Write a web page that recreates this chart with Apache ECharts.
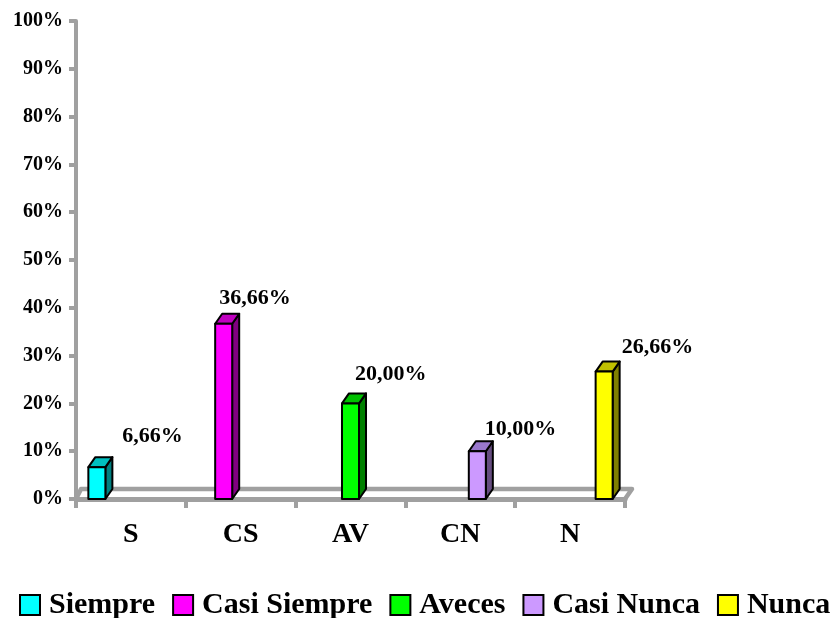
<!DOCTYPE html>
<html>
<head>
<meta charset="utf-8">
<script src="https://cdn.jsdelivr.net/npm/echarts@6/dist/echarts.min.js"></script>
<style>
html,body{margin:0;padding:0;background:#fff;}
#chart{width:838px;height:618px;}
</style>
</head>
<body>
<div id="chart"></div>
<script>
// ---- data ----
const categories = ['S', 'CS', 'AV', 'CN', 'N'];
const seriesNames = ['Siempre', 'Casi Siempre', 'Aveces', 'Casi Nunca', 'Nunca'];
const values = [6.66, 36.66, 20.00, 10.00, 26.66];
const yTicks = [0, 10, 20, 30, 40, 50, 60, 70, 80, 90, 100];

// ---- styles ----
const styles = [
  {front: '#00FFFF', top: '#00C0C0', side: '#008080', lab: [17, -31]},
  {front: '#FF00FF', top: '#C000C0', side: '#800080', lab: [-13, -25]},
  {front: '#00FF00', top: '#00C000', side: '#008000', lab: [-4, -29]},
  {front: '#CC99FF', top: '#9977CC', side: '#664D80', lab: [-1, -22]},
  {front: '#FFFF00', top: '#C0C000', side: '#808000', lab: [9, -24]}
];
const DX = 7, DY = -10;
const GRAY = '#A0A0A0';
const FONT = '"Liberation Serif", "Times New Roman", serif';

function fmt(v) { return v.toFixed(2).replace('.', ',') + '%'; }

function barRenderer(slot) {
  return function (params, api) {
    const cat = api.value(0), val = api.value(1);
    const p = api.coord([cat, val]);
    const b = api.coord([cat, 0]);
    const bw = api.size([1, 0])[0];
    const w = bw * 0.155;
    const cx = p[0] + (slot - 2) * w;
    const x = cx - w / 2;
    const top = p[1], bot = b[1];
    const st = styles[slot];
    const stroke = {stroke: '#000', lineWidth: 2, lineJoin: 'round'};
    return {
      type: 'group',
      children: [
        {type: 'polygon', shape: {points: [[x + w, top], [x + w + DX, top + DY], [x + w + DX, bot + DY], [x + w, bot]]},
         style: Object.assign({fill: st.side}, stroke)},
        {type: 'polygon', shape: {points: [[x, top], [x + DX, top + DY], [x + w + DX, top + DY], [x + w, top]]},
         style: Object.assign({fill: st.top}, stroke)},
        {type: 'rect', shape: {x: x, y: top, width: w, height: bot - top},
         style: Object.assign({fill: st.front}, stroke)},
        {type: 'text', x: x + w + st.lab[0], y: top + st.lab[1],
         style: {text: fmt(val), fill: '#000', font: 'bold 22px ' + FONT, textAlign: 'left', textVerticalAlign: 'middle'}}
      ]
    };
  };
}

function floorRenderer(params, api) {
  const a = api.coord([0, 0]);
  const c = api.coord([categories.length - 1, 0]);
  const bw = api.size([1, 0])[0];
  const l = a[0] - bw / 2, r = c[0] + bw / 2, y = a[1];
  return {
    type: 'polyline',
    shape: {points: [[l, y], [l + DX - 2, y + DY], [r + DX, y + DY], [r, y]]},
    style: {stroke: GRAY, lineWidth: 4.5, fill: null, lineJoin: 'round', lineCap: 'round'}
  };
}

const series = [{
  type: 'custom', name: '_floor', renderItem: floorRenderer, data: [[0, 0]],
  encode: {x: 0, y: 1}, clip: false, silent: true, z: 1
}];
seriesNames.forEach(function (n, i) {
  series.push({
    type: 'custom', name: n, renderItem: barRenderer(i),
    data: [[i, values[i]]], encode: {x: 0, y: 1}, clip: false, z: 3,
    itemStyle: {color: styles[i].front, borderColor: '#000', borderWidth: 2}
  });
});

const chart = echarts.init(document.getElementById('chart'), null, {renderer: 'canvas'});
chart.setOption({
  animation: false,
  backgroundColor: '#fff',
  grid: {left: 76, right: 213, top: 21, bottom: 119, containLabel: false},
  legend: {
    data: seriesNames,
    left: 19, top: 590, width: 817, padding: 0,
    icon: 'rect', itemWidth: 20, itemHeight: 20, itemGap: 17,
    itemStyle: {borderColor: '#000', borderWidth: 2},
    textStyle: {fontFamily: FONT, fontWeight: 'bold', fontSize: 30, color: '#000', padding: [0, 0, 0, 4]}
  },
  xAxis: {
    type: 'category', data: categories, boundaryGap: true,
    axisLine: {show: true, lineStyle: {color: GRAY, width: 5}},
    axisTick: {show: true, alignWithLabel: false, length: 9, lineStyle: {color: GRAY, width: 4}},
    axisLabel: {fontFamily: FONT, fontWeight: 'bold', fontSize: 28, color: '#000', margin: 22},
    splitLine: {show: false}
  },
  yAxis: {
    type: 'value', min: yTicks[0], max: yTicks[yTicks.length - 1], interval: yTicks[1] - yTicks[0],
    axisLine: {show: true, lineStyle: {color: GRAY, width: 4}},
    axisTick: {show: true, length: 7, lineStyle: {color: GRAY, width: 4}},
    axisLabel: {formatter: '{value}%', fontFamily: FONT, fontWeight: 'bold', fontSize: 20, color: '#000', margin: 13},
    splitLine: {show: false}
  },
  series: series
});
</script>
</body>
</html>
